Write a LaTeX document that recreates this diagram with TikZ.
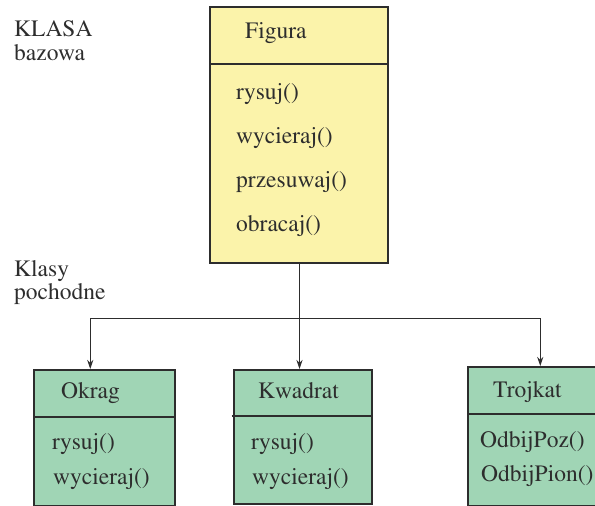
\documentclass[tikz,border=0pt]{standalone}
\usepackage[T1]{fontenc}
\usepackage{mathptmx}
\usetikzlibrary{arrows.meta}
\definecolor{ink}{RGB}{45,45,45}
\definecolor{basefill}{RGB}{251,243,170}
\definecolor{subfill}{RGB}{160,213,181}
\tikzset{
  x=1pt, y=-1pt,
  classbox/.style={draw=ink, line width=1.5pt, rectangle, inner sep=0pt, anchor=north west},
  divider/.style={draw=ink, line width=1.5pt},
  lbl/.style={anchor=base west, inner sep=0pt, text=ink, font=\rmfamily\fontsize{23.5}{24}\selectfont},
  link/.style={draw=ink, line width=1.2pt},
  arrowlink/.style={link, -{Stealth[length=9pt,width=6pt]}}
}
\begin{document}
\begin{tikzpicture}
\useasboundingbox (0,0) rectangle (595,506);

% side captions
\node[lbl] (cap1a) at (14,36) {KLASA};
\node[lbl] (cap1b) at (14,60) {bazowa};
\node[lbl] (cap2a) at (14,276) {Klasy};
\node[lbl] (cap2b) at (14,299) {pochodne};

% base class
\node[classbox, fill=basefill, minimum width=178pt, minimum height=256pt] (figura) at (209,6) {};
\draw[divider] ([yshift=-58pt]figura.north west) -- ([yshift=-58pt]figura.north east);
\node[lbl] (fname) at (245,38) {Figura};
\node[lbl] (f1) at (236,99) {rysuj()};
\node[lbl] (f2) at (236,143) {wycieraj()};
\node[lbl] (f3) at (236,187) {przesuwaj()};
\node[lbl] (f4) at (236,231) {obracaj()};

% derived classes
\node[classbox, fill=subfill, minimum width=141pt, minimum height=136pt] (okrag) at (33,369) {};
\draw[divider] ([yshift=-48pt]okrag.north west) -- ([yshift=-48pt]okrag.north east);
\node[lbl] (oname) at (61,398) {Okrag};
\node[lbl] (o1) at (52,449) {rysuj()};
\node[lbl] (o2) at (53,484) {wycieraj()};

\node[classbox, fill=subfill, minimum width=138pt, minimum height=134pt] (kwadrat) at (233,369) {};
\draw[divider] ([xshift=-1.5pt,yshift=-47pt]kwadrat.north west) -- ([yshift=-47pt]kwadrat.north east);
\node[lbl] (kname) at (258,398) {Kwadrat};
\node[lbl] (k1) at (251,449) {rysuj()};
\node[lbl] (k2) at (252,484) {wycieraj()};

\node[classbox, fill=subfill, minimum width=131pt, minimum height=139pt] (trojkat) at (467,366) {};
\draw[divider] ([yshift=-48pt]trojkat.north west) -- ([yshift=-48pt]trojkat.north east);
\node[lbl] (tname) at (493,397) {Trojkat};
\node[lbl] (t1) at (480,447) {OdbijPoz()};
\node[lbl] (t2) at (481,481) {OdbijPion()};

% inheritance connectors: one trunk down to Kwadrat, branches from the bus
\coordinate (bus) at (299.5,318.5);
\draw[arrowlink] (figura.south -| bus) -- (kwadrat.north -| bus);
\draw[arrowlink] (bus) -| ([xshift=-14pt]okrag.north);
\draw[arrowlink] (bus) -| ([xshift=7pt]trojkat.north);
\end{tikzpicture}
\end{document}
